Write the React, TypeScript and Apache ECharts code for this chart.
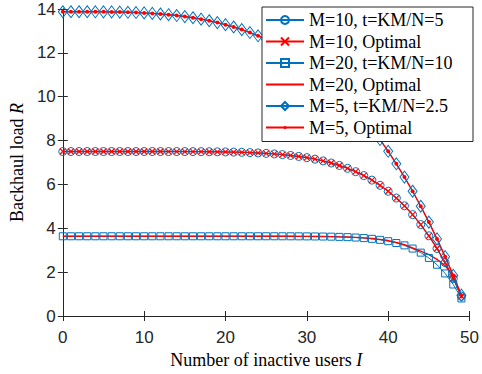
import React, { useEffect, useRef } from "react";
import * as echarts from "echarts";

const inactiveUsers = [
  0, 1, 2, 3, 4, 5, 6, 7, 8, 9, 10, 11, 12, 13, 14, 15, 16, 17, 18, 19, 20, 21, 22, 23, 24,
  25, 26, 27, 28, 29, 30, 31, 32, 33, 34, 35, 36, 37, 38, 39, 40, 41, 42, 43, 44, 45, 46, 47, 48, 49,
];

const m10Scheme = [
  7.5, 7.5, 7.5, 7.5, 7.5, 7.5, 7.5, 7.5, 7.5, 7.5, 7.5, 7.5, 7.5, 7.499, 7.499, 7.498, 7.496, 7.494,
  7.491, 7.487, 7.482, 7.474, 7.465, 7.452, 7.436, 7.416, 7.391, 7.36, 7.322, 7.276, 7.22, 7.152,
  7.072, 6.977, 6.865, 6.734, 6.581, 6.403, 6.197, 5.96, 5.688, 5.378, 5.024, 4.623, 4.168, 3.656,
  3.079, 2.432, 1.708, 0.9,
];
const m10Optimal = [
  7.5, 7.5, 7.5, 7.5, 7.5, 7.5, 7.5, 7.5, 7.5, 7.5, 7.5, 7.5, 7.5, 7.499, 7.499, 7.498, 7.496, 7.494,
  7.491, 7.487, 7.482, 7.474, 7.465, 7.452, 7.436, 7.416, 7.391, 7.36, 7.322, 7.276, 7.22, 7.152,
  7.072, 6.977, 6.865, 6.734, 6.581, 6.403, 6.197, 5.96, 5.688, 5.378, 5.024, 4.623, 4.168, 3.656,
  3.079, 2.432, 1.708, 0.9,
];
const m20Scheme = [
  3.636, 3.636, 3.636, 3.636, 3.636, 3.636, 3.636, 3.636, 3.636, 3.636, 3.636, 3.636, 3.636, 3.636,
  3.636, 3.636, 3.636, 3.636, 3.636, 3.636, 3.636, 3.636, 3.636, 3.636, 3.636, 3.636, 3.636, 3.635,
  3.634, 3.633, 3.631, 3.628, 3.624, 3.618, 3.609, 3.596, 3.578, 3.553, 3.519, 3.473, 3.411, 3.329,
  3.22, 3.076, 2.89, 2.648, 2.338, 1.941, 1.437, 0.8,
];
const m20Optimal = [
  3.636, 3.636, 3.636, 3.636, 3.636, 3.636, 3.636, 3.636, 3.636, 3.636, 3.636, 3.636, 3.636, 3.636,
  3.636, 3.636, 3.636, 3.636, 3.636, 3.636, 3.636, 3.636, 3.636, 3.636, 3.636, 3.636, 3.636, 3.635,
  3.634, 3.633, 3.631, 3.628, 3.624, 3.618, 3.61, 3.6, 3.585, 3.565, 3.535, 3.495, 3.44, 3.36,
  3.25, 3.1, 2.96, 2.8, 2.58, 2.29, 1.84, 0.82,
];
const m5Scheme = [
  13.875, 13.875, 13.875, 13.875, 13.873, 13.871, 13.866, 13.86, 13.85, 13.838, 13.821, 13.799,
  13.773, 13.74, 13.701, 13.655, 13.6, 13.537, 13.464, 13.381, 13.286, 13.179, 13.06, 12.926,
  12.778, 12.614, 12.432, 12.233, 12.015, 11.777, 11.519, 11.238, 10.933, 10.604, 10.249, 9.868,
  9.458, 9.019, 8.549, 8.047, 7.511, 6.941, 6.334, 5.69, 5.006, 4.282, 3.516, 2.706, 1.852, 0.95,
];
const m5Optimal = [
  13.875, 13.875, 13.875, 13.875, 13.873, 13.871, 13.866, 13.86, 13.85, 13.838, 13.821, 13.799,
  13.773, 13.74, 13.701, 13.655, 13.6, 13.537, 13.464, 13.381, 13.286, 13.179, 13.06, 12.926,
  12.778, 12.614, 12.432, 12.233, 12.015, 11.777, 11.519, 11.238, 10.933, 10.604, 10.249, 9.868,
  9.458, 9.019, 8.549, 8.047, 7.511, 6.941, 6.334, 5.69, 5.006, 4.282, 3.516, 2.706, 1.852, 0.95,
];

const seriesNames = [
  "M=10, t=KM/N=5",
  "M=10, Optimal",
  "M=20, t=KM/N=10",
  "M=20, Optimal",
  "M=5, t=KM/N=2.5",
  "M=5, Optimal",
];

const xTicks = { min: 0, max: 50, interval: 10 };
const yTicks = { min: 0, max: 14, interval: 2 };

const BLUE = "#0072BD";
const RED = "#FF0000";
const AXIS = "#262626";
const SERIF = "'Liberation Serif', 'Times New Roman', serif";
const SANS = "'Liberation Sans', Arial, Helvetica, sans-serif";

const DOT = "path://M0,0M10,10M3,5A2,2 0 1,1 7,5A2,2 0 1,1 3,5Z";
const CROSS = "path://M0,0L10,10M10,0L0,10";

function pairs(ys: number[]) {
  return inactiveUsers.map((x, i) => [x, ys[i]]);
}

export default function App() {
  const ref = useRef<HTMLDivElement>(null);
  useEffect(() => {
    document.body.style.margin = "0";
    if (!ref.current) return;
    const chart = echarts.init(ref.current, undefined, { renderer: "svg" });

    const blueSeries = (name: string, ys: number[], symbol: string, size: any) => ({
      name,
      type: "line",
      data: pairs(ys),
      symbol,
      symbolSize: size,
      showAllSymbol: true,
      lineStyle: { color: BLUE, width: 1 },
      itemStyle: { color: "rgba(0,0,0,0)", borderColor: BLUE, borderWidth: 1 },
      emphasis: { disabled: true },
    });
    const redSeries = (name: string, ys: number[], symbol: string, size: any, item: any) => ({
      name,
      type: "line",
      data: pairs(ys),
      symbol,
      symbolSize: size,
      showAllSymbol: true,
      lineStyle: { color: RED, width: 1.4 },
      itemStyle: item,
      emphasis: { disabled: true },
    });

    const axisCommon = {
      axisLine: { show: true, lineStyle: { color: AXIS, width: 1 } },
      axisTick: { show: true, inside: true, length: 5, lineStyle: { color: AXIS, width: 1 } },
      splitLine: { show: false },
    };

    chart.setOption({
      animation: false,
      backgroundColor: "#fff",
      grid: { left: 62, right: 10, top: 9, bottom: 58, containLabel: false },
      legend: {
        orient: "vertical",
        left: 262,
        top: 7,
        padding: [4, 4, 5, 3],
        itemGap: 3.5,
        itemWidth: 38,
        itemHeight: 10,
        backgroundColor: "#fff",
        borderColor: AXIS,
        borderWidth: 1,
        borderRadius: 0,
        selectedMode: false,
        z: 10,
        data: seriesNames.map((n, i) =>
          i === 3 ? { name: n, itemStyle: { color: "rgba(0,0,0,0)", borderWidth: 0, opacity: 0 } } : { name: n }
        ),
        textStyle: {
          fontFamily: SERIF,
          fontSize: 18,
          lineHeight: 18,
          color: "#000",
          width: 160,
        },
      },
      xAxis: [
        {
          type: "value",
          min: xTicks.min,
          max: xTicks.max,
          interval: xTicks.interval,
          ...axisCommon,
          axisLabel: { color: AXIS, fontFamily: SANS, fontSize: 17, margin: 13 },
          name: "{t|Number of inactive users }{i|I}",
          nameLocation: "middle",
          nameGap: 32,
          nameTextStyle: {
            color: "#000",
            rich: {
              t: { fontFamily: SERIF, fontSize: 18, color: "#000" },
              i: { fontFamily: SERIF, fontSize: 18, fontStyle: "italic", color: "#000" },
            },
          },
        },
        {
          type: "value",
          position: "top",
          min: xTicks.min,
          max: xTicks.max,
          interval: xTicks.interval,
          ...axisCommon,
          axisLabel: { show: false },
        },
      ],
      yAxis: [
        {
          type: "value",
          min: yTicks.min,
          max: yTicks.max,
          interval: yTicks.interval,
          ...axisCommon,
          axisLabel: { color: AXIS, fontFamily: SANS, fontSize: 17, margin: 7 },
          name: "{t|Backhaul load }{i|R}",
          nameLocation: "middle",
          nameGap: 35,
          nameRotate: 90,
          nameTextStyle: {
            color: "#000",
            rich: {
              t: { fontFamily: SERIF, fontSize: 18, color: "#000" },
              i: { fontFamily: SERIF, fontSize: 18, fontStyle: "italic", color: "#000" },
            },
          },
        },
        {
          type: "value",
          position: "right",
          min: yTicks.min,
          max: yTicks.max,
          interval: yTicks.interval,
          ...axisCommon,
          axisLabel: { show: false },
        },
      ],
      series: [
        blueSeries(seriesNames[0], m10Scheme, "circle", 8),
        redSeries(seriesNames[1], m10Optimal, CROSS, 6, {
          color: RED,
          borderColor: RED,
          borderWidth: 1.2,
        }),
        blueSeries(seriesNames[2], m20Scheme, "rect", 7),
        redSeries(seriesNames[3], m20Optimal, "none", 0, { color: RED }),
        blueSeries(seriesNames[4], m5Scheme, "diamond", [9, 12]),
        redSeries(seriesNames[5], m5Optimal, DOT, 10, { color: RED, borderWidth: 0 }),
      ],
    });
    return () => chart.dispose();
  }, []);
  return <div ref={ref} style={{ width: 482, height: 374 }} />;
}
